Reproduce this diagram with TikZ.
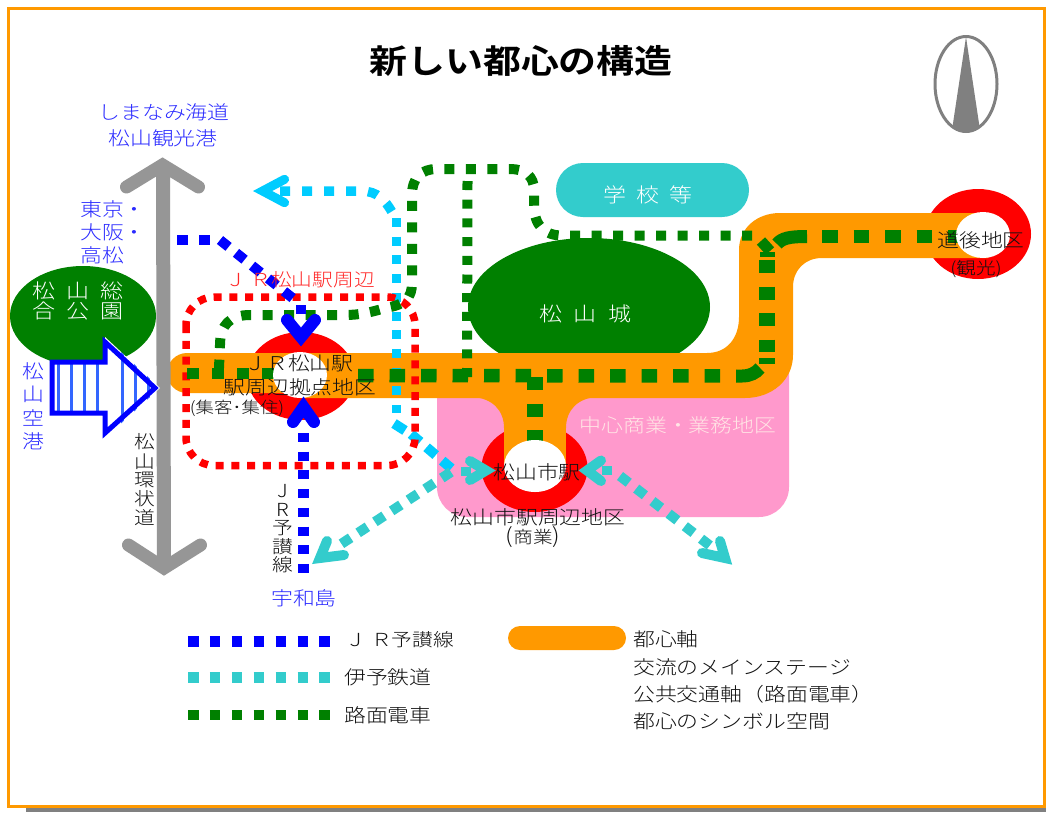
\documentclass[tikz,border=0pt]{standalone}
\usepackage{fontspec}
\newfontfamily\jp[FakeStretch=1.15]{Noto Sans CJK JP Light}
\newfontfamily\jpbold[FakeStretch=1.15]{Noto Sans CJK JP Bold}
\newcommand\fsz[1]{\jp\fontsize{#1}{#1}\selectfont}
\definecolor{orangeC}{HTML}{FF9900}
\definecolor{greenC}{HTML}{008000}
\definecolor{redC}{HTML}{FF0000}
\definecolor{pinkC}{HTML}{FF99CC}
\definecolor{tealC}{HTML}{33CCCC}
\definecolor{cyanC}{HTML}{00CCFF}
\definecolor{blueC}{HTML}{0000FF}
\definecolor{blueT}{HTML}{2A2AFF}
\definecolor{greyA}{HTML}{969696}
\definecolor{greyN}{HTML}{808080}
\definecolor{stripeC}{HTML}{3366FF}
\definecolor{txtC}{HTML}{111111}
\tikzset{
  x=1pt,y=-1pt,
  lbl/.style={inner sep=0pt,text=txtC,font=\fsz{19}},
  blbl/.style={lbl,text=blueT},
  wlbl/.style={lbl,text=white},
  headline/.style={line join=miter,miter limit=20,line cap=round},
  tram/.style={draw=greenC,line width=10pt,dash pattern=on 10pt off 11.5pt},
  tramsolid/.style={draw=greenC,line width=13pt},
  redring/.style={fill=redC},
  hole/.style={fill=white},
}
\begin{document}
\begin{tikzpicture}
\useasboundingbox (0,0) rectangle (1046,812);
\fill[white] (0,0) rectangle (1046,812);
% frame
\fill[greyN] (26,806) rectangle (1046,812);
\draw[orangeC,line width=3pt,fill=white] (8.5,8) rectangle (1044,806.5);
% title and compass
\node[lbl,text=black,font=\jpbold\fontsize{33}{33}\selectfont] (title) at (521,61) {新しい都心の構造};
\begin{scope}
  \clip (966,84) ellipse [x radius=32,y radius=48];
  \fill[greyN] (966,37) -- (952,130) -- (980,130) -- cycle;
\end{scope}
\draw[greyN,line width=3pt] (966,84) ellipse [x radius=31,y radius=47.5];
% pink commercial area
\fill[pinkC] (437,365) -- (789,365) {[rounded corners=30pt] -- (789,517) -- (437,517)} -- cycle;
% green parks
\fill[greenC] (83,316) ellipse [x radius=73,y radius=50];
\fill[greenC] (589,307) ellipse [x radius=121,y radius=69];
\fill[tealC,rounded corners=27pt] (556,163) rectangle (749,217);
% red station rings
\fill[redring] (301,376) ellipse [x radius=54,y radius=44];
\fill[redring] (534.5,468) ellipse [x radius=53,y radius=44];
\fill[redring] (978,234) ellipse [x radius=53,y radius=45];
% orange axis
\fill[orangeC]
  (187,353) -- (707,353) .. controls (727,353) and (739,338) .. (739,317)
  -- (739,250) .. controls (739,228) and (757,213) .. (780,213)
  -- (988,213) -- (988,258) -- (822,258) .. controls (805,258) and (793,270) .. (793,287)
  -- (793,355) .. controls (793,380) and (772,398) .. (745,398)
  -- (300,398) -- (300,393) -- (187,393) .. controls (176,393) and (167,384) .. (167,373) .. controls (167,362) and (176,353) .. (187,353) -- cycle;
\fill[orangeC] (504,396) rectangle (566,468);
\fill[orangeC] (472,397) .. controls (492,398) and (504,410) .. (504,428) -- (506,428) -- (506,397) -- cycle;
\fill[orangeC] (597,397) .. controls (578,398) and (566,410) .. (566,428) -- (564,428) -- (564,397) -- cycle;
% grey ring road
\draw[greyA,line width=14pt] (163,165) -- (164,568);
\draw[greyA,line width=13pt,headline] (126.5,187) -- (162.5,165) -- (198.5,187);
\draw[greyA,line width=13pt,headline] (128.5,545) -- (164,568) -- (200.5,545);
% airport arrow
\begin{scope}
  \clip (52,362) -- (105,362) -- (105,337) -- (160,388) -- (105,438) -- (105,413) -- (52,413) -- cycle;
  \fill[white] (40,330) rectangle (170,445);
  \foreach \xx in {58,71,84,97,122,135,148} {\fill[stripeC] (\xx-1.5,330) rectangle (\xx+1.5,445);}
\end{scope}
\draw[blueC,line width=5pt,line join=miter,miter limit=20] (52,362) -- (105,362) -- (105,342) -- (155,388) -- (105,433) -- (105,413) -- (52,413) -- cycle;
% cyan line
\draw[cyanC,line width=9.5pt,dash pattern=on 10pt off 12pt] (280,191.2) -- (362,191.2) .. controls (377,191) and (385,200) .. (392,212);
\draw[cyanC,line width=9.5pt,dash pattern=on 9pt off 9.7pt] (396.5,218) -- (396.5,413);
\draw[cyanC,line width=10pt] (394,423.5) -- (405,430.5);
\draw[cyanC,line width=10pt,dash pattern=on 12pt off 8.5pt] (411,434) -- (452,469);
\draw[cyanC,line width=9pt,headline] (284.6,179.3) -- (262.6,191) -- (284.6,202.7);
% red dashed rectangle
\draw[redC,line width=7.5pt,rounded corners=28pt,dash pattern=on 8pt off 7.8pt] (186,297) rectangle (415,465.5);
% tram lines
\draw[tram] (752,235.5) -- (562,235.5) .. controls (545,235.5) and (534,226) .. (534,205) -- (534,190)
  .. controls (534,176) and (525,169) .. (510,169) -- (437,169)
  .. controls (421,169) and (412,178) .. (412,195) -- (412,283)
  .. controls (412,298) and (405,305) .. (385,308) .. controls (372,312) and (360,315) .. (345,315)
  -- (250,315) .. controls (230,315) and (220,325) .. (220,345) -- (219,368);
\draw[greenC,line width=10pt,dash pattern=on 9pt off 9.7pt] (467.5,181) -- (467,377);
\draw[greenC,line width=11.5pt,dash pattern=on 12pt off 13pt] (187,373.5) -- (290,373.5);
\draw[greenC,line width=13.5pt,dash pattern=on 15.5pt off 16pt] (358,375.5) -- (736,376);
\draw[tramsolid] (736,376) -- (742,376) .. controls (750,376) and (756,373) .. (760,368);
\draw[greenC,line width=15.7pt] (767,358) -- (767,364);
\draw[greenC,line width=15.7pt,dash pattern=on 13pt off 13.5pt] (767,260) -- (767,352);
\draw[greenC,line width=15pt] (767,252) -- (767,257);
\draw[greenC,line width=11pt] (761,241) -- (770,251);
\draw[tramsolid] (777,244) .. controls (782,238) and (790,236.5) .. (807,236.5);
\draw[greenC,line width=13pt,dash pattern=on 15.5pt off 16pt] (822,236.5) -- (960,236.5);
\draw[greenC,line width=16pt,dash pattern=on 13pt off 13.5pt] (535,377) -- (535,441);
% station holes
\fill[hole] (300,375) ellipse [x radius=27,y radius=23];
\fill[hole] (535,466) ellipse [x radius=31,y radius=26];
\fill[hole] (983,235) ellipse [x radius=27,y radius=23];
% teal lines
\draw[tealC,line width=10pt,headline] (470,461) -- (486,470.5) -- (470,480);
\draw[tealC,line width=10pt,headline] (601,460.5) -- (587,470.5) -- (601,481);
\draw[tealC,line width=10pt,headline] (327,541) -- (320,558) -- (344,555);
\draw[tealC,line width=10pt,headline] (720,541) -- (725,558) -- (702,553);
\fill[tealC] (461,467) rectangle (471,476);
\fill[tealC] (602,466) rectangle (612,475);
\draw[tealC,line width=10pt,dash pattern=on 11pt off 9pt] (451,472) -- (335,548);
\draw[tealC,line width=10pt,dash pattern=on 11pt off 9.5pt] (620,476) -- (713,548);
% JR line
\draw[blueC,line width=10pt,dash pattern=on 11pt off 11pt] (177,239.5) -- (211,239.5);
\draw[blueC,line width=10pt,dash pattern=on 11pt off 9.5pt] (220,240) -- (295,300);
\fill[blueC] (296,305) rectangle (306,314);
\draw[blueC,line width=12pt,headline] (287,320) -- (301,337) -- (315,320);
\draw[blueC,line width=12pt,headline] (293,422) -- (303.5,407) -- (314,422);
\draw[blueC,line width=11pt,dash pattern=on 9pt off 9.7pt] (303.5,433) -- (303.5,573);
% labels
\node[blbl] (a1) at (164,112) {しまなみ海道};
\node[blbl] (a2) at (163,138) {松山観光港};
\node[blbl,anchor=west] (b1) at (80,209) {東京・};
\node[blbl,anchor=west] (b2) at (80,232) {大阪・};
\node[blbl,anchor=west] (b3) at (80,255) {高松};
\node[wlbl,font=\fsz{20}] (c1) at (78,291) {松\hspace{11pt}山\hspace{11pt}総};
\node[wlbl,font=\fsz{20}] (c2) at (78,311) {合\hspace{11pt}公\hspace{11pt}園};
\node[blbl] (d1) at (33,371) {松};
\node[blbl] (d2) at (33,394) {山};
\node[blbl] (d3) at (33,418) {空};
\node[blbl] (d4) at (33,441) {港};
\node[lbl,font=\fsz{18}] (e1) at (145,442) {松};
\node[lbl,font=\fsz{18}] (e2) at (145,462) {山};
\node[lbl,font=\fsz{18}] (e3) at (145,480) {環};
\node[lbl,font=\fsz{18}] (e4) at (145,499) {状};
\node[lbl,font=\fsz{18}] (e5) at (145,518) {道};
\node[lbl,text=red!85!white,font=\fsz{18}] (f1) at (300,280) {Ｊ Ｒ松山駅周辺};
\node[lbl] (f2) at (299,363) {ＪＲ松山駅};
\node[lbl] (f3) at (300,387) {駅周辺拠点地区};
\node[lbl,font=\fsz{16}] (f4) at (237,408) {(集客･集住)};
\node[lbl,font=\fsz{18}] (g1) at (283,491) {J};
\node[lbl,font=\fsz{18}] (g2) at (283,510) {R};
\node[lbl,font=\fsz{18}] (g3) at (283,528) {予};
\node[lbl,font=\fsz{18}] (g4) at (283,547) {讃};
\node[lbl,font=\fsz{18}] (g5) at (283,565) {線};
\node[blbl] (h1) at (304,598) {宇和島};
\node[wlbl,font=\fsz{20}] (i1) at (585.5,314) {松\hspace{12pt}山\hspace{12pt}城};
\node[wlbl,font=\fsz{20}] (i2) at (648,195) {学\hspace{10pt}校\hspace{10pt}等};
\node[lbl,text=pink!40!white] (j1) at (678,425) {中心商業・業務地区};
\node[lbl] (k1) at (537,472) {松山市駅};
\node[lbl] (k2) at (538,517) {松山市駅周辺地区};
\node[lbl,font=\fsz{17}] (k3) at (533,537) {{\fontsize{21}{21}\selectfont(}商業{\fontsize{21}{21}\selectfont)}};
\node[lbl] (l1) at (981,240) {道後地区};
\node[lbl,font=\fsz{17}] (l2) at (976,269) {(観光)};
% legend
\draw[blueC,line width=10.5pt,dash pattern=on 10.5pt off 11.4pt] (188,641.5) -- (331,641.5);
\draw[tealC,line width=10.5pt,dash pattern=on 10.5pt off 11.4pt] (188,677.5) -- (331,677.5);
\draw[greenC,line width=10.5pt,dash pattern=on 10.5pt off 11.4pt] (188,715) -- (331,715);
\fill[orangeC,rounded corners=12pt] (508,626) rectangle (626,650);
\node[lbl,font=\fsz{18}] (m1) at (400,640) {Ｊ Ｒ予讃線};
\node[lbl,anchor=west] (m2) at (344,677) {伊予鉄道};
\node[lbl,anchor=west] (m3) at (344,715) {路面電車};
\node[lbl,anchor=west] (n1) at (633,639) {都心軸};
\node[lbl,anchor=west] (n2) at (633,667) {交流のメインステージ};
\node[lbl,anchor=west] (n3) at (633,694) {公共交通軸（路面電車）};
\node[lbl,anchor=west] (n4) at (633,721) {都心のシンボル空間};
\end{tikzpicture}
\end{document}
